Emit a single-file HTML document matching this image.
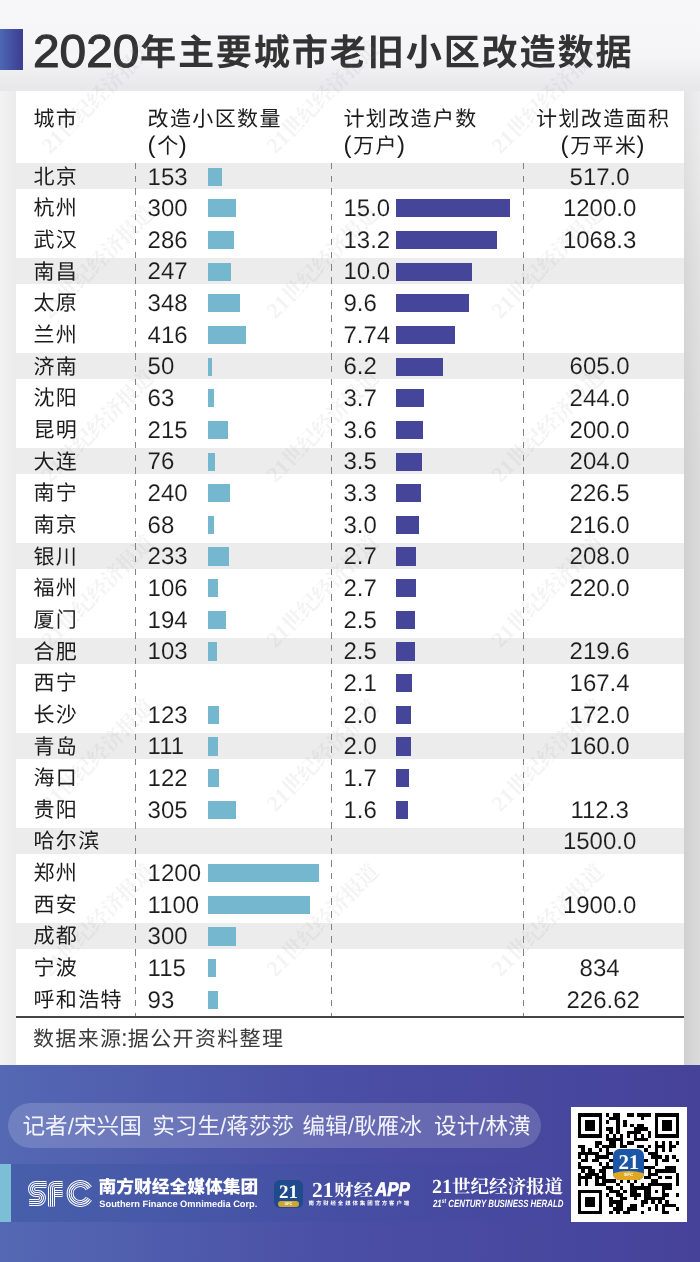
<!DOCTYPE html>
<html lang="zh-CN">
<head>
<meta charset="utf-8">
<title>2020年主要城市老旧小区改造数据</title>
<style>
*{box-sizing:border-box}
html,body{margin:0;padding:0;background:#f1f1f3}
body{font-family:"Liberation Sans",sans-serif;color:#1c1c1c;text-rendering:geometricPrecision}
#page{position:relative;width:700px;height:1262px;overflow:hidden;background:#f1f1f3;will-change:transform}
.bg-t{position:absolute;left:0;top:0;width:700px;height:91px;background:linear-gradient(#f7f7fa 0,#f5f5f8 62%,#e7e7ea 100%)}
.bg-l{position:absolute;left:0;top:91px;width:16px;height:974px;background:linear-gradient(90deg,#f2f2f3,#ebebec)}
.bg-r{position:absolute;left:683px;top:91px;width:17px;height:974px;background:linear-gradient(90deg,rgba(0,0,0,.035),rgba(255,255,255,.12)),linear-gradient(#ececee 0,#dedede 18%,#d6d6d6 40%,#d6d6d6 100%)}
/* CJK runs: real text */
.zh{white-space:nowrap;line-height:1;font-family:"Liberation Sans","Noto Sans CJK SC",sans-serif}
/* title */
.tbar{position:absolute;left:0;top:28.6px;width:23px;height:41.4px;background:linear-gradient(90deg,#4d67b5,#3c3c90)}
h1{position:absolute;left:33px;top:27.5px;margin:0;font-size:46px;line-height:1;font-weight:400;color:#333;white-space:nowrap}
h1 .yr{display:inline-block;transform-origin:0 50%;transform:scaleX(1.04);margin-right:4.1px;-webkit-text-stroke:1.1px #333}
h1 .zh{font-size:36.2px;position:absolute;left:106.94px;top:7.2px;display:block;line-height:1;font-weight:700;letter-spacing:.049em}
/* panel + table */
.panel{position:absolute;left:16px;top:91px;width:668px;height:974px;background:#fff}
table.data{position:absolute;left:0;top:0;width:668px;border-collapse:collapse;table-layout:fixed;font-size:24px}
.k1{width:119px}.k2{width:196px}.k3{width:192px}.k4{width:161px}
th,td{padding:0;font-weight:400;text-align:left;white-space:nowrap;position:relative}
th{height:69px;vertical-align:top;line-height:27.5px;padding-top:13.6px}
th i{font-style:normal;line-height:1;position:relative;top:-.4px}
th i:first-of-type{margin-right:1.7px}
th i:last-of-type{margin-left:.5px}
.zh{font-size:21px}
table.data .zh,.src .zh{letter-spacing:.065em;margin-right:-.065em}
td{height:31.66px;line-height:31.66px;vertical-align:top}
td b{font-weight:400;position:relative;top:1.5px;line-height:1}
td b{-webkit-text-stroke:.12px #fff}
tr.g td b{-webkit-text-stroke-color:#ececec}
td .zh{position:relative;top:.7px}
tr.g td{background:linear-gradient(#ececec,#ececec) 0 2.9px/100% 26.1px no-repeat}
.c1{padding-left:17.5px}
.c2{padding-left:12.6px}
.c3{padding-left:12.5px}
th.c4{text-align:center;padding-right:2px}
td.c4{text-align:center;padding-right:7.8px}
td.c4 b.sh{left:3.6px}
.bl,.bd{position:absolute;top:7.6px;height:18.2px}
.bl{left:72.8px;background:#76b7d0}
.bd{left:64.7px;background:#454599}
.vl{position:absolute;top:71.9px;height:854px;width:1px;background:repeating-linear-gradient(#828282 0,#828282 6.4px,transparent 6.4px,transparent 12.68px)}
.src{position:absolute;left:0;top:925px;width:668px;margin:0;border-top:2px solid #444;padding:7px 0 0 17px;line-height:27px;font-size:24px;color:#3a3a3a}
.src .zh{font-size:21px}
.wms{position:absolute;left:0;top:0;width:700px;height:1065px;overflow:hidden;pointer-events:none}
.wm{position:absolute;height:24px;transform-origin:0 100%;transform:rotate(-45deg);font-family:"Liberation Serif",serif;font-size:22px;line-height:24px;color:rgba(150,150,158,.11);white-space:nowrap}
.wm .zh{font-size:21px;font-family:"Liberation Serif","Noto Serif CJK SC",serif;font-weight:700}
/* footer */
footer{position:absolute;left:0;top:1065px;width:700px;height:197px;background:linear-gradient(90deg,#5468b4,#4a4ea4 50%,#46429a);color:#fff}
.credits .zh{font-size:inherit}
.credits span.cg{position:absolute;top:0}
.credits{position:absolute;left:7.7px;top:37.9px;width:533px;height:45px;margin:0;border-radius:22.5px;background:rgba(255,255,255,.17);padding-left:14.8px;line-height:47px;font-size:22.6px;color:#f3f4fb;white-space:nowrap}
.band{position:absolute;left:0;top:99px;width:600px;height:58px;background:linear-gradient(90deg,rgba(40,75,150,.3),rgba(40,75,150,0))}
.acc{position:absolute;left:0;top:0;width:11px;height:58px;background:#7dbed7}
.lg1,.lg2,.lg3{position:absolute;left:0;top:0}
.sfc{position:absolute;left:28px;top:115px;width:66px;height:27px}
.n1{position:absolute;left:98.6px;top:113.8px;line-height:1;font-size:17.75px}
.n1 .zh{font-size:inherit;font-weight:900}
.n2{position:absolute;left:99.3px;top:134.9px;font-size:9.28px;line-height:1;font-weight:700;white-space:nowrap;transform-origin:0 0}
.ico{position:absolute;left:274.1px;top:114.6px;width:28.6px;height:28.2px;border-radius:6px;background:#1f4a8c;overflow:hidden;font-family:"Liberation Serif",serif;text-align:center}
.ico b{position:absolute;left:0;top:3.2px;width:100%;font-size:19px;line-height:1;letter-spacing:-.2px}
.ico em{position:absolute;left:3.5px;top:21.3px;width:21.7px;height:5.7px;border-radius:3px;background:#d0a535;font:700 4px/5.7px "Liberation Sans",sans-serif;font-style:normal}
.a1{position:absolute;left:312px;top:115px;line-height:1;white-space:nowrap;font-family:"Liberation Serif",serif;font-size:21.5px}
.a1 .zh{font-size:19.6px;position:absolute;left:22px;top:1px;display:block;line-height:1;transform-origin:0 84%;transform:scaleY(.86);font-family:"Liberation Serif","Noto Serif CJK SC",serif;font-weight:700}
.a1 i{font:italic 700 20px/1 "Liberation Sans",sans-serif;position:absolute;left:62.7px;top:.25px;display:block;transform-origin:0 100%;transform:scaleX(.85);-webkit-text-stroke:.7px #fff}
.a2{position:absolute;left:308.6px;top:136.9px;line-height:1;font-size:5.45px}
.a2 .zh{font-size:inherit;display:block;font-weight:700;letter-spacing:.345em}
.h1{position:absolute;left:432px;top:112px;line-height:1;white-space:nowrap;font-family:"Liberation Serif",serif;font-size:20px}
.h1 .zh{font-size:18.5px;font-family:"Liberation Serif","Noto Serif CJK SC",serif;font-weight:700}
.h2{position:absolute;left:432.6px;top:134.5px;font:italic 700 10.4px/1 "Liberation Sans",sans-serif;white-space:nowrap;transform-origin:0 0;transform:scaleX(.757)}
.h2 sup{font-size:.62em;vertical-align:.55em;line-height:0}
.qrbox{position:absolute;left:571px;top:41.6px;width:116px;height:115.5px;background:#fff}
.qr{position:absolute;left:7.4px;top:6.8px;width:101.2px;height:101.6px;fill:#000}
.qi{position:absolute;left:42.2px;top:42px;width:31px;height:31.2px;border-radius:6.5px;background:#1b57a6;overflow:hidden;font-family:"Liberation Serif",serif;text-align:center}
.qi b{position:absolute;left:0;top:3.6px;width:100%;font-size:21px;line-height:1;color:#fff;letter-spacing:-.3px}
.qi em{position:absolute;left:-5px;right:-5px;top:22.2px;height:16px;border-radius:50%/45%;background:#dfa722;font:700 4.6px/7.6px "Liberation Sans",sans-serif;font-style:normal;color:#fff}
</style>
</head>
<body>
<div id="page">
<div class="bg-t"></div><div class="bg-l"></div><div class="bg-r"></div>
<header><span class="tbar"></span><h1><span class="yr">2020</span><span class="zh">年主要城市老旧小区改造数据</span></h1></header>
<main class="panel">
<table class="data"><colgroup><col class="k1"><col class="k2"><col class="k3"><col class="k4"></colgroup>
<thead><tr><th class="c1"><span class="zh">城市</span></th><th class="c2"><span class="zh">改造小区数量</span><br><i>(</i><span class="zh">个</span><i>)</i></th><th class="c3"><span class="zh">计划改造户数</span><br><i>(</i><span class="zh">万户</span><i>)</i></th><th class="c4"><span class="zh">计划改造面积</span><br><i>(</i><span class="zh">万平米</span><i>)</i></th></tr></thead><tbody>
<tr class="g"><td class="c1"><span class="zh">北京</span></td><td class="c2"><b>153</b><span class="bl" style="width:14.2px"></span></td><td class="c3"></td><td class="c4"><b>517.0</b></td></tr>
<tr><td class="c1"><span class="zh">杭州</span></td><td class="c2"><b>300</b><span class="bl" style="width:27.9px"></span></td><td class="c3"><b>15.0</b><span class="bd" style="width:114.8px"></span></td><td class="c4"><b>1200.0</b></td></tr>
<tr><td class="c1"><span class="zh">武汉</span></td><td class="c2"><b>286</b><span class="bl" style="width:26.6px"></span></td><td class="c3"><b>13.2</b><span class="bd" style="width:101.0px"></span></td><td class="c4"><b>1068.3</b></td></tr>
<tr class="g"><td class="c1"><span class="zh">南昌</span></td><td class="c2"><b>247</b><span class="bl" style="width:23.0px"></span></td><td class="c3"><b>10.0</b><span class="bd" style="width:76.5px"></span></td><td class="c4"></td></tr>
<tr><td class="c1"><span class="zh">太原</span></td><td class="c2"><b>348</b><span class="bl" style="width:32.4px"></span></td><td class="c3"><b>9.6</b><span class="bd" style="width:73.4px"></span></td><td class="c4"></td></tr>
<tr><td class="c1"><span class="zh">兰州</span></td><td class="c2"><b>416</b><span class="bl" style="width:38.7px"></span></td><td class="c3"><b>7.74</b><span class="bd" style="width:59.2px"></span></td><td class="c4"></td></tr>
<tr class="g"><td class="c1"><span class="zh">济南</span></td><td class="c2"><b>50</b><span class="bl" style="width:4.7px"></span></td><td class="c3"><b>6.2</b><span class="bd" style="width:47.4px"></span></td><td class="c4"><b>605.0</b></td></tr>
<tr><td class="c1"><span class="zh">沈阳</span></td><td class="c2"><b>63</b><span class="bl" style="width:5.9px"></span></td><td class="c3"><b>3.7</b><span class="bd" style="width:28.3px"></span></td><td class="c4"><b>244.0</b></td></tr>
<tr><td class="c1"><span class="zh">昆明</span></td><td class="c2"><b>215</b><span class="bl" style="width:20.0px"></span></td><td class="c3"><b>3.6</b><span class="bd" style="width:27.5px"></span></td><td class="c4"><b>200.0</b></td></tr>
<tr class="g"><td class="c1"><span class="zh">大连</span></td><td class="c2"><b>76</b><span class="bl" style="width:7.1px"></span></td><td class="c3"><b>3.5</b><span class="bd" style="width:26.8px"></span></td><td class="c4"><b>204.0</b></td></tr>
<tr><td class="c1"><span class="zh">南宁</span></td><td class="c2"><b>240</b><span class="bl" style="width:22.3px"></span></td><td class="c3"><b>3.3</b><span class="bd" style="width:25.2px"></span></td><td class="c4"><b>226.5</b></td></tr>
<tr><td class="c1"><span class="zh">南京</span></td><td class="c2"><b>68</b><span class="bl" style="width:6.3px"></span></td><td class="c3"><b>3.0</b><span class="bd" style="width:23.0px"></span></td><td class="c4"><b>216.0</b></td></tr>
<tr class="g"><td class="c1"><span class="zh">银川</span></td><td class="c2"><b>233</b><span class="bl" style="width:21.7px"></span></td><td class="c3"><b>2.7</b><span class="bd" style="width:20.7px"></span></td><td class="c4"><b>208.0</b></td></tr>
<tr><td class="c1"><span class="zh">福州</span></td><td class="c2"><b>106</b><span class="bl" style="width:9.9px"></span></td><td class="c3"><b>2.7</b><span class="bd" style="width:20.7px"></span></td><td class="c4"><b>220.0</b></td></tr>
<tr><td class="c1"><span class="zh">厦门</span></td><td class="c2"><b>194</b><span class="bl" style="width:18.0px"></span></td><td class="c3"><b>2.5</b><span class="bd" style="width:19.1px"></span></td><td class="c4"></td></tr>
<tr class="g"><td class="c1"><span class="zh">合肥</span></td><td class="c2"><b>103</b><span class="bl" style="width:9.6px"></span></td><td class="c3"><b>2.5</b><span class="bd" style="width:19.1px"></span></td><td class="c4"><b>219.6</b></td></tr>
<tr><td class="c1"><span class="zh">西宁</span></td><td class="c2"></td><td class="c3"><b>2.1</b><span class="bd" style="width:16.1px"></span></td><td class="c4"><b>167.4</b></td></tr>
<tr><td class="c1"><span class="zh">长沙</span></td><td class="c2"><b>123</b><span class="bl" style="width:11.4px"></span></td><td class="c3"><b>2.0</b><span class="bd" style="width:15.3px"></span></td><td class="c4"><b>172.0</b></td></tr>
<tr class="g"><td class="c1"><span class="zh">青岛</span></td><td class="c2"><b>111</b><span class="bl" style="width:10.3px"></span></td><td class="c3"><b>2.0</b><span class="bd" style="width:15.3px"></span></td><td class="c4"><b>160.0</b></td></tr>
<tr><td class="c1"><span class="zh">海口</span></td><td class="c2"><b>122</b><span class="bl" style="width:11.3px"></span></td><td class="c3"><b>1.7</b><span class="bd" style="width:13.0px"></span></td><td class="c4"></td></tr>
<tr><td class="c1"><span class="zh">贵阳</span></td><td class="c2"><b>305</b><span class="bl" style="width:28.4px"></span></td><td class="c3"><b>1.6</b><span class="bd" style="width:12.2px"></span></td><td class="c4"><b>112.3</b></td></tr>
<tr class="g"><td class="c1"><span class="zh">哈尔滨</span></td><td class="c2"></td><td class="c3"></td><td class="c4"><b>1500.0</b></td></tr>
<tr><td class="c1"><span class="zh">郑州</span></td><td class="c2"><b>1200</b><span class="bl" style="width:111.6px"></span></td><td class="c3"></td><td class="c4"></td></tr>
<tr><td class="c1"><span class="zh">西安</span></td><td class="c2"><b>1100</b><span class="bl" style="width:102.3px"></span></td><td class="c3"></td><td class="c4"><b>1900.0</b></td></tr>
<tr class="g"><td class="c1"><span class="zh">成都</span></td><td class="c2"><b>300</b><span class="bl" style="width:27.9px"></span></td><td class="c3"></td><td class="c4"></td></tr>
<tr><td class="c1"><span class="zh">宁波</span></td><td class="c2"><b>115</b><span class="bl" style="width:8.6px"></span></td><td class="c3"></td><td class="c4"><b>834</b></td></tr>
<tr><td class="c1"><span class="zh">呼和浩特</span></td><td class="c2"><b>93</b><span class="bl" style="width:10.6px"></span></td><td class="c3"></td><td class="c4"><b class="sh">226.62</b></td></tr>
</tbody></table>
<i class="vl" style="left:119px"></i><i class="vl" style="left:315px"></i><i class="vl" style="left:507px"></i>
<p class="src"><span class="zh">数据来源</span>:<span class="zh">据公开资料整理</span></p>
</main>
<div class="wms" aria-hidden="true"><div class="wm" style="left:54px;top:134px"><b>21</b><span class="zh">世纪经济报道</span></div><div class="wm" style="left:279px;top:134px"><b>21</b><span class="zh">世纪经济报道</span></div><div class="wm" style="left:504px;top:134px"><b>21</b><span class="zh">世纪经济报道</span></div><div class="wm" style="left:54px;top:299px"><b>21</b><span class="zh">世纪经济报道</span></div><div class="wm" style="left:279px;top:299px"><b>21</b><span class="zh">世纪经济报道</span></div><div class="wm" style="left:504px;top:299px"><b>21</b><span class="zh">世纪经济报道</span></div><div class="wm" style="left:54px;top:463px"><b>21</b><span class="zh">世纪经济报道</span></div><div class="wm" style="left:279px;top:463px"><b>21</b><span class="zh">世纪经济报道</span></div><div class="wm" style="left:504px;top:463px"><b>21</b><span class="zh">世纪经济报道</span></div><div class="wm" style="left:54px;top:628px"><b>21</b><span class="zh">世纪经济报道</span></div><div class="wm" style="left:279px;top:628px"><b>21</b><span class="zh">世纪经济报道</span></div><div class="wm" style="left:504px;top:628px"><b>21</b><span class="zh">世纪经济报道</span></div><div class="wm" style="left:54px;top:792px"><b>21</b><span class="zh">世纪经济报道</span></div><div class="wm" style="left:279px;top:792px"><b>21</b><span class="zh">世纪经济报道</span></div><div class="wm" style="left:504px;top:792px"><b>21</b><span class="zh">世纪经济报道</span></div><div class="wm" style="left:54px;top:957px"><b>21</b><span class="zh">世纪经济报道</span></div><div class="wm" style="left:279px;top:957px"><b>21</b><span class="zh">世纪经济报道</span></div><div class="wm" style="left:504px;top:957px"><b>21</b><span class="zh">世纪经济报道</span></div></div>
<footer>
<p class="credits"><span class="cg" style="left:14.8px"><span class="zh">记者</span>/<span class="zh">宋兴国</span></span> <span class="cg" style="left:144.6px"><span class="zh">实习生</span>/<span class="zh">蒋莎莎</span></span> <span class="cg" style="left:294.8px"><span class="zh">编辑</span>/<span class="zh">耿雁冰</span></span> <span class="cg" style="left:426.4px"><span class="zh">设计</span>/<span class="zh">林潢</span></span></p>
<div class="band"><span class="acc"></span></div>
<div class="lg1"><svg class="sfc" viewBox="0 0 66 27" role="img" aria-label="SFC"><mask id="sfm" maskUnits="userSpaceOnUse" x="-2" y="-2" width="70" height="30"><g fill="none" stroke-linecap="butt" stroke-linejoin="round"><path d="M18.4 4.5H8a4.5 4.5 0 0 0 0 9H10a4.5 4.5 0 0 1 0 9H1.2M23.5 26.6V8a3.5 3.5 0 0 1 3.5-3.5H34.5M27 13.5H34.5M60.86 8.35A10.10 10.00 0 1 0 60.86 18.65" stroke="#fff" stroke-width="7"/><path d="M18.4 4.5H8a4.5 4.5 0 0 0 0 9H10a4.5 4.5 0 0 1 0 9H1.2M23.5 26.6V8a3.5 3.5 0 0 1 3.5-3.5H34.5M27 13.5H34.5M60.86 8.35A10.10 10.00 0 1 0 60.86 18.65" stroke="#000" stroke-width="5"/><path d="M18.4 4.5H8a4.5 4.5 0 0 0 0 9H10a4.5 4.5 0 0 1 0 9H1.2M23.5 26.6V8a3.5 3.5 0 0 1 3.5-3.5H34.5M27 13.5H34.5M60.86 8.35A10.10 10.00 0 1 0 60.86 18.65" stroke="#fff" stroke-width="3"/><path d="M18.4 4.5H8a4.5 4.5 0 0 0 0 9H10a4.5 4.5 0 0 1 0 9H1.2M23.5 26.6V8a3.5 3.5 0 0 1 3.5-3.5H34.5M27 13.5H34.5M60.86 8.35A10.10 10.00 0 1 0 60.86 18.65" stroke="#000" stroke-width="1"/></g></mask><rect x="-2" y="-2" width="70" height="30" fill="#fff" mask="url(#sfm)"/></svg><div class="n1"><span class="zh">南方财经全媒体集团</span></div><div class="n2">Southern Finance Omnimedia Corp.</div></div>
<div class="lg2"><span class="ico"><b>21</b><em>SFC</em></span><div class="a1"><b>21</b><span class="zh">财经</span><i>APP</i></div><div class="a2"><span class="zh">南方财经全媒体集团官方客户端</span></div></div>
<div class="lg3"><div class="h1"><b>21</b><span class="zh">世纪经济报道</span></div><div class="h2">21<sup>st</sup> CENTURY BUSINESS HERALD</div></div>
<div class="qrbox"><svg class="qr" viewBox="0 0 29 29" shape-rendering="crispEdges" aria-label="QR code" role="img"><path d="M0 0h7v1h-7zM8 0h1v1h-1zM10 0h2v1h-2zM14 0h2v1h-2zM17 0h4v1h-4zM22 0h7v1h-7zM0 1h1v1h-1zM6 1h1v1h-1zM9 1h3v1h-3zM18 1h1v1h-1zM22 1h1v1h-1zM28 1h1v1h-1zM0 2h1v1h-1zM2 2h3v1h-3zM6 2h1v1h-1zM8 2h1v1h-1zM11 2h1v1h-1zM13 2h1v1h-1zM22 2h1v1h-1zM24 2h3v1h-3zM28 2h1v1h-1zM0 3h1v1h-1zM2 3h3v1h-3zM6 3h1v1h-1zM11 3h1v1h-1zM13 3h1v1h-1zM15 3h1v1h-1zM17 3h2v1h-2zM22 3h1v1h-1zM24 3h3v1h-3zM28 3h1v1h-1zM0 4h1v1h-1zM2 4h3v1h-3zM6 4h1v1h-1zM8 4h2v1h-2zM11 4h1v1h-1zM16 4h4v1h-4zM22 4h1v1h-1zM24 4h3v1h-3zM28 4h1v1h-1zM0 5h1v1h-1zM6 5h1v1h-1zM9 5h1v1h-1zM11 5h1v1h-1zM14 5h4v1h-4zM20 5h1v1h-1zM22 5h1v1h-1zM28 5h1v1h-1zM0 6h7v1h-7zM8 6h1v1h-1zM10 6h1v1h-1zM12 6h1v1h-1zM14 6h1v1h-1zM16 6h1v1h-1zM18 6h1v1h-1zM20 6h1v1h-1zM22 6h7v1h-7zM8 7h5v1h-5zM16 7h4v1h-4zM5 8h2v1h-2zM9 8h2v1h-2zM12 8h1v1h-1zM14 8h2v1h-2zM22 8h1v1h-1zM24 8h1v1h-1zM26 8h1v1h-1zM28 8h1v1h-1zM0 9h2v1h-2zM5 9h1v1h-1zM7 9h4v1h-4zM12 9h2v1h-2zM17 9h2v1h-2zM20 9h1v1h-1zM22 9h3v1h-3zM26 9h2v1h-2zM1 10h1v1h-1zM3 10h1v1h-1zM6 10h1v1h-1zM8 10h1v1h-1zM19 10h1v1h-1zM22 10h1v1h-1zM24 10h1v1h-1zM26 10h1v1h-1zM0 11h6v1h-6zM8 11h2v1h-2zM20 11h3v1h-3zM0 12h1v1h-1zM2 12h1v1h-1zM5 12h4v1h-4zM21 12h3v1h-3zM25 12h1v1h-1zM27 12h1v1h-1zM1 13h2v1h-2zM4 13h2v1h-2zM9 13h1v1h-1zM19 13h1v1h-1zM22 13h1v1h-1zM24 13h2v1h-2zM28 13h1v1h-1zM0 14h1v1h-1zM6 14h1v1h-1zM8 14h1v1h-1zM22 14h1v1h-1zM0 15h4v1h-4zM7 15h3v1h-3zM19 15h3v1h-3zM25 15h3v1h-3zM1 16h1v1h-1zM3 16h2v1h-2zM6 16h2v1h-2zM20 16h1v1h-1zM22 16h6v1h-6zM0 17h1v1h-1zM2 17h4v1h-4zM7 17h1v1h-1zM20 17h3v1h-3zM28 17h1v1h-1zM0 18h4v1h-4zM5 18h3v1h-3zM19 18h2v1h-2zM23 18h1v1h-1zM25 18h2v1h-2zM28 18h1v1h-1zM0 19h1v1h-1zM2 19h1v1h-1zM5 19h1v1h-1zM7 19h4v1h-4zM12 19h1v1h-1zM14 19h1v1h-1zM16 19h1v1h-1zM21 19h2v1h-2zM28 19h1v1h-1zM0 20h1v1h-1zM2 20h1v1h-1zM5 20h3v1h-3zM11 20h1v1h-1zM15 20h1v1h-1zM18 20h1v1h-1zM20 20h7v1h-7zM28 20h1v1h-1zM8 21h2v1h-2zM12 21h1v1h-1zM15 21h6v1h-6zM24 21h3v1h-3zM0 22h7v1h-7zM9 22h3v1h-3zM13 22h1v1h-1zM15 22h2v1h-2zM19 22h2v1h-2zM22 22h1v1h-1zM24 22h1v1h-1zM0 23h1v1h-1zM6 23h1v1h-1zM8 23h1v1h-1zM11 23h2v1h-2zM15 23h3v1h-3zM19 23h2v1h-2zM24 23h2v1h-2zM28 23h1v1h-1zM0 24h1v1h-1zM2 24h3v1h-3zM6 24h1v1h-1zM9 24h1v1h-1zM12 24h2v1h-2zM16 24h1v1h-1zM19 24h6v1h-6zM0 25h1v1h-1zM2 25h3v1h-3zM6 25h1v1h-1zM9 25h4v1h-4zM18 25h2v1h-2zM21 25h1v1h-1zM23 25h1v1h-1zM25 25h1v1h-1zM0 26h1v1h-1zM2 26h3v1h-3zM6 26h1v1h-1zM9 26h1v1h-1zM11 26h2v1h-2zM15 26h2v1h-2zM18 26h1v1h-1zM22 26h1v1h-1zM24 26h4v1h-4zM0 27h1v1h-1zM6 27h1v1h-1zM10 27h3v1h-3zM14 27h3v1h-3zM20 27h1v1h-1zM22 27h1v1h-1zM24 27h1v1h-1zM28 27h1v1h-1zM0 28h7v1h-7zM9 28h1v1h-1zM11 28h1v1h-1zM13 28h2v1h-2zM18 28h1v1h-1zM24 28h2v1h-2z"/></svg><span class="qi"><b>21</b><em>SFC</em></span></div>
</footer>
</div>
</body>
</html>
